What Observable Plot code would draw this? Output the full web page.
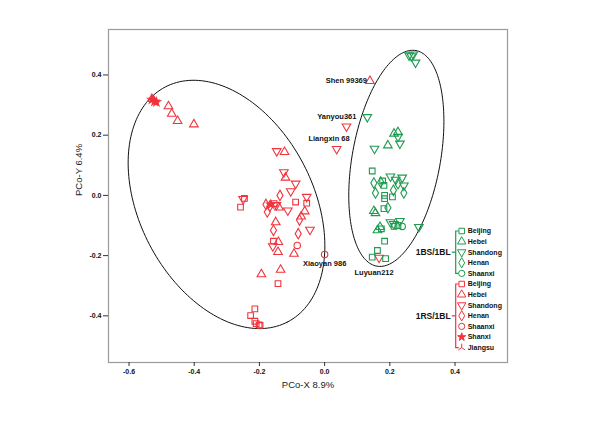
<!DOCTYPE html>
<html><head><meta charset="utf-8">
<script src="https://cdn.jsdelivr.net/npm/d3@7"></script>
<script src="https://cdn.jsdelivr.net/npm/@observablehq/plot@0.6"></script>
<style>body{margin:0;background:#fff;font-family:"Liberation Sans",Arial,sans-serif}</style>
</head><body><div id="chart"></div>
<script>
// ---- data ----
const regions = ["Beijing","Hebei","Shandong","Henan","Shaanxi","Shanxi","Jiangsu"];
const xTicks = [-0.6,-0.4,-0.2,0.0,0.2,0.4];
const yTicks = [-0.4,-0.2,0.0,0.2,0.4];
// 1RS/1BL accessions: [x, y, region]
const rsPoints = [
  [-0.530,0.318,"Shanxi"],[-0.522,0.312,"Shanxi"],[-0.516,0.310,"Shanxi"],
  [-0.530,0.320,"Hebei"],[-0.524,0.316,"Jiangsu"],
  [-0.479,0.296,"Hebei"],[-0.469,0.271,"Hebei"],[-0.451,0.247,"Hebei"],[-0.401,0.236,"Hebei"],
  [-0.147,0.147,"Shandong"],[-0.123,0.144,"Hebei"],
  [-0.125,0.077,"Shandong"],[-0.120,0.059,"Hebei"],
  [-0.089,0.039,"Shandong"],[-0.104,0.014,"Shandong"],
  [-0.258,-0.039,"Beijing"],[-0.246,-0.010,"Beijing"],[-0.250,-0.012,"Shandong"],
  [-0.137,0.000,"Henan"],
  [-0.180,-0.030,"Henan"],[-0.168,-0.036,"Henan"],[-0.176,-0.055,"Henan"],[-0.165,-0.030,"Shanxi"],
  [-0.155,-0.027,"Beijing"],[-0.148,-0.032,"Shandong"],[-0.140,-0.040,"Hebei"],
  [-0.113,-0.050,"Shandong"],[-0.089,-0.022,"Beijing"],
  [-0.055,-0.026,"Beijing"],[-0.055,-0.005,"Shandong"],[-0.061,-0.053,"Hebei"],
  [-0.072,-0.070,"Hebei"],[-0.077,-0.082,"Henan"],
  [-0.150,-0.089,"Hebei"],[-0.157,-0.116,"Henan"],[-0.081,-0.127,"Henan"],[-0.045,-0.114,"Shandong"],
  [-0.157,-0.152,"Beijing"],[-0.159,-0.169,"Shandong"],[-0.142,-0.155,"Hebei"],
  [-0.143,-0.188,"Hebei"],[-0.084,-0.166,"Shaanxi"],[-0.094,-0.194,"Hebei"],
  [0.000,-0.196,"Shaanxi"],
  [-0.194,-0.262,"Hebei"],[-0.135,-0.247,"Hebei"],[-0.143,-0.293,"Beijing"],
  [-0.214,-0.377,"Beijing"],[-0.227,-0.399,"Beijing"],[-0.214,-0.418,"Beijing"],
  [-0.210,-0.426,"Beijing"],[-0.201,-0.430,"Beijing"],[-0.198,-0.432,"Beijing"],
  [0.139,0.380,"Hebei"],[0.067,0.229,"Shandong"],[0.037,0.154,"Shandong"],[0.167,-0.207,"Shandong"]
];
// 1BS/1BL accessions: [x, y, region]
const bsPoints = [
  [0.259,0.465,"Shandong"],[0.272,0.468,"Shandong"],[0.266,0.462,"Shandong"],[0.279,0.441,"Shandong"],
  [0.131,0.260,"Shandong"],
  [0.213,0.205,"Hebei"],[0.225,0.210,"Hebei"],[0.194,0.166,"Hebei"],
  [0.231,0.172,"Shandong"],[0.153,0.155,"Shandong"],[0.225,0.195,"Shandong"],
  [0.146,0.081,"Beijing"],
  [0.151,0.041,"Henan"],[0.172,0.044,"Henan"],
  [0.202,0.063,"Shandong"],[0.218,0.052,"Shandong"],[0.238,0.059,"Shandong"],[0.243,0.033,"Shandong"],
  [0.182,0.033,"Beijing"],[0.178,0.048,"Beijing"],
  [0.156,0.008,"Henan"],[0.211,0.017,"Henan"],[0.243,0.008,"Henan"],[0.225,0.039,"Henan"],
  [0.184,0.000,"Beijing"],[0.184,-0.011,"Beijing"],[0.208,-0.005,"Beijing"],
  [0.151,-0.052,"Hebei"],[0.156,-0.059,"Hebei"],
  [0.182,-0.044,"Beijing"],[0.194,-0.041,"Henan"],
  [0.170,-0.105,"Hebei"],[0.174,-0.111,"Beijing"],[0.162,-0.116,"Hebei"],
  [0.202,-0.089,"Shandong"],[0.213,-0.103,"Beijing"],[0.231,-0.085,"Shandong"],
  [0.238,-0.103,"Shaanxi"],[0.225,-0.100,"Beijing"],[0.212,-0.095,"Shandong"],
  [0.289,-0.105,"Shandong"],
  [0.184,-0.152,"Beijing"],
  [0.162,-0.183,"Beijing"],[0.146,-0.205,"Beijing"],[0.187,-0.210,"Beijing"]
];
// named accessions: [x, y, name]
const labelled = [
  [0.139,0.380,"Shen 99369"],[0.067,0.229,"Yanyou361"],[0.037,0.154,"Liangxin 68"],
  [0.000,-0.196,"Xiaoyan 986"],[0.167,-0.207,"Luyuan212"]
];
// group ellipses: centre and two conjugate half-axis vectors (data units)
const ellipses = [
  {group:"1RS/1BL", cx:-0.301, cy:-0.030, ux:0.188, uy:-0.390, vx:-0.236, vy:-0.134},
  {group:"1BS/1BL", cx:0.220, cy:0.123, ux:0.060, uy:0.358, vx:0.133, vy:-0.026}
];
const bsRegions = ["Beijing","Hebei","Shandong","Henan","Shaanxi"];
const rsRegions = ["Beijing","Hebei","Shandong","Henan","Shaanxi","Shanxi","Jiangsu"];

// ---- styles ----
const RED = "#f0343c", GREEN = "#1e9a50";
const downTri = {draw(c, size){const y=-Math.sqrt(size/(Math.sqrt(3)*3)); c.moveTo(0,-y*2); c.lineTo(-Math.sqrt(3)*y,y); c.lineTo(Math.sqrt(3)*y,y); c.closePath();}};
const invWye = {draw(c, size){const r=Math.sqrt(size)*0.7; c.moveTo(0,0); c.lineTo(0,-r); c.moveTo(0,0); c.lineTo(-r*0.87,r*0.6); c.moveTo(0,0); c.lineTo(r*0.87,r*0.6);}};
const symbolOf = {Beijing:"square",Hebei:"triangle",Shandong:downTri,Henan:"diamond",Shaanxi:"circle",Shanxi:"star",Jiangsu:invWye};
const d3Sym = {square:d3.symbolSquare,triangle:d3.symbolTriangle,diamond:d3.symbolDiamond,circle:d3.symbolCircle,star:d3.symbolStar};
const R = 3.2, RSTAR = 2.6;

function dotsFor(points, color){
  return regions.map(reg => Plot.dot(points.filter(p => p[2] === reg), {
    x: d => d[0], y: d => d[1], symbol: symbolOf[reg], r: reg === "Shanxi" ? RSTAR : R,
    stroke: color, strokeWidth: 1.1, fill: reg === "Shanxi" ? color : "none"
  }));
}
const ellipsePts = ellipses.flatMap(e => d3.range(0, 181).map(i => {
  const t = i / 180 * 2 * Math.PI;
  return {group: e.group, x: e.cx + e.ux*Math.cos(t) + e.vx*Math.sin(t), y: e.cy + e.uy*Math.cos(t) + e.vy*Math.sin(t)};
}));
const labelOffsets = {"Shen 99369":[-3,0,"end"],"Yanyou361":[10,-10,"end"],"Liangxin 68":[13,-10,"end"],"Xiaoyan 986":[0,9,"middle"],"Luyuan212":[-5,15,"middle"]};

const plot = Plot.plot({
  width: 600, height: 424,
  marginLeft: 108, marginRight: 93, marginTop: 29, marginBottom: 62,
  style: {fontFamily: '"Liberation Sans", Arial, sans-serif', background: "white"},
  x: {domain: [-0.663, 0.561]},
  y: {domain: [-0.555, 0.551]},
  marks: [
    Plot.frame({stroke: "#9a9a9a", strokeWidth: 1.2}),
    Plot.axisX({ticks: xTicks, tickFormat: d => d.toFixed(1), tickSize: 4, tickPadding: 3, fontSize: 7, fontWeight: "bold", label: null, stroke: "#333", fill: "#111"}),
    Plot.axisY({ticks: yTicks, tickFormat: d => d.toFixed(1), tickSize: 5, tickPadding: 2, fontSize: 7, fontWeight: "bold", label: null, stroke: "#333", fill: "#111"}),
    Plot.text(["PCo-X 8.9%"], {frameAnchor: "bottom", dy: 25, fontSize: 9.5, fill: "#222"}),
    Plot.text(["PCo-Y 6.4%"], {frameAnchor: "left", dx: -30, rotate: -90, fontSize: 9.5, fill: "#222"}),
    Plot.line(ellipsePts, {x: "x", y: "y", z: "group", stroke: "#111", strokeWidth: 1}),
    ...dotsFor(rsPoints, RED),
    ...dotsFor(bsPoints, GREEN),
    ...labelled.map(l => Plot.text([l], {x: d => d[0], y: d => d[1], text: d => d[2],
      dx: labelOffsets[l[2]][0], dy: labelOffsets[l[2]][1], textAnchor: labelOffsets[l[2]][2],
      fontSize: 7.5, fontWeight: "bold", fill: "#111"}))
  ]
});
document.getElementById("chart").appendChild(plot);

// ---- bracket legend drawn inside the plot frame ----
const svg = d3.select(plot);
const lg = svg.append("g").attr("font-family", '"Liberation Sans", Arial, sans-serif').attr("text-anchor", "start");
function bracket(list, color, title, y0){
  const step = 10.6, xs = 461.7, xb = 455.7;
  const y1 = y0 + step*(list.length-1), ym = (y0+y1)/2;
  const g = lg.append("g");
  g.append("path").attr("d", `M${xs-3},${y0}H${xb}V${y1}H${xs-3}`).attr("fill","none").attr("stroke",color).attr("stroke-width",1.2);
  g.append("path").attr("d", `M${xb-4},${ym}H${xb}`).attr("fill","none").attr("stroke",color).attr("stroke-width",1.2);
  g.append("text").attr("x", xb-5).attr("y", ym).attr("dy","0.35em").attr("text-anchor","end")
    .attr("font-size", 8.5).attr("font-weight","bold").attr("fill","#111").text(title);
  list.forEach((reg,i) => {
    const y = y0 + step*i;
    const s = symbolOf[reg];
    const type = typeof s === "string" ? d3Sym[s] : s;
    const rr = reg === "Shanxi" ? RSTAR : R;
    g.append("path").attr("d", d3.symbol(type, Math.PI*rr*rr*0.95)()).attr("transform",`translate(${xs},${y})`)
      .attr("fill", reg === "Shanxi" ? color : "white").attr("stroke", color).attr("stroke-width",1);
    g.append("text").attr("x", xs+6).attr("y", y).attr("dy","0.35em").attr("text-anchor","start")
      .attr("font-size",7).attr("font-weight","bold").attr("fill","#111").text(reg);
  });
}
bracket(bsRegions, GREEN, "1BS/1BL", 231);
bracket(rsRegions, RED, "1RS/1BL", 284);
</script></body></html>
